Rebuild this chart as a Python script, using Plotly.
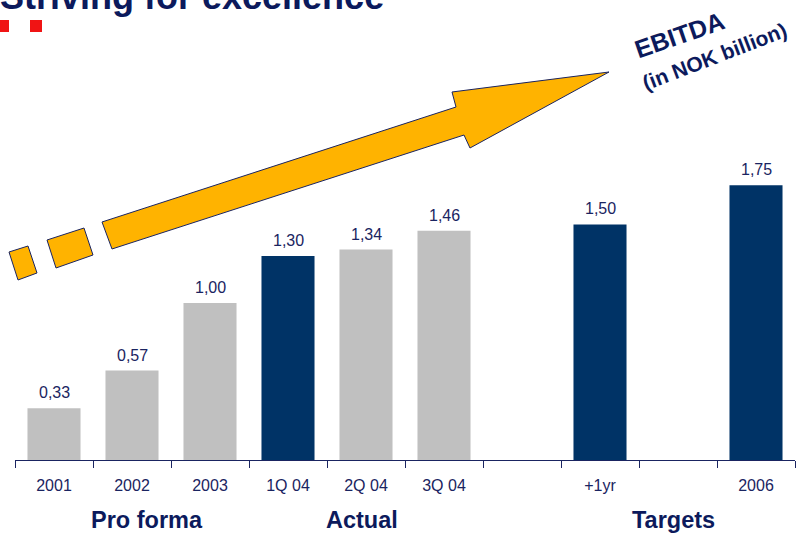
import plotly.graph_objects as go

# ---- data ----
categories = ["2001", "2002", "2003", "1Q 04", "2Q 04", "3Q 04", "", "+1yr", "", "2006"]
ebitda = [0.33, 0.57, 1.00, 1.30, 1.34, 1.46, None, 1.50, None, 1.75]
highlight = [False, False, False, True, False, False, False, True, False, True]
group_labels = ["Pro forma", "Actual", "Targets"]
title_text = "Striving for excellence"
unit_title = "EBITDA"
unit_sub = "(in NOK billion)"

# ---- styles ----
W, H = 798, 535
GRAY = "#C0C0C0"
NAVY_BAR = "#003366"
NAVY_TXT = "#1A2461"
TITLE_COL = "#0C1A5C"
ORANGE = "#FFB300"
FONT = "Liberation Sans, Arial, sans-serif"


def px(x):
    return x / W


def py(y):
    return 1 - y / H


pos = list(range(len(categories)))
bar_colors = [NAVY_BAR if h else GRAY for h in highlight]

fig = go.Figure()
fig.add_trace(go.Bar(
    x=pos, y=ebitda, marker=dict(color=bar_colors, line=dict(width=0)),
    hoverinfo="skip", showlegend=False,
))

annotations = []
for p, v in zip(pos, ebitda):
    if v is None:
        continue
    annotations.append(dict(
        x=p, y=v, xref="x", yref="y", text=f"{v:.2f}".replace(".", ","),
        showarrow=False, yanchor="bottom", yshift=5,
        font=dict(family=FONT, size=16, color=NAVY_TXT),
    ))

# group labels
for lbl, cx in zip(group_labels, [147, 362, 673]):
    annotations.append(dict(
        x=px(cx), y=py(520), xref="paper", yref="paper", text=f"<b>{lbl}</b>",
        showarrow=False, xanchor="center", yanchor="middle",
        font=dict(family=FONT, size=23.5, color=TITLE_COL),
    ))

# title (cut at top)
annotations.append(dict(
    x=px(-2), y=py(-3), xref="paper", yref="paper", text=f"<b>{title_text}</b>",
    showarrow=False, xanchor="left", yanchor="middle",
    font=dict(family=FONT, size=36, color=TITLE_COL),
))

# rotated unit labels
annotations.append(dict(
    x=px(679), y=py(35), xref="paper", yref="paper", text=f"<b>{unit_title}</b>",
    showarrow=False, xanchor="center", yanchor="middle", textangle=-19,
    font=dict(family=FONT, size=25, color=TITLE_COL),
))
annotations.append(dict(
    x=px(714), y=py(56), xref="paper", yref="paper", text=f"<b>{unit_sub}</b>",
    showarrow=False, xanchor="center", yanchor="middle", textangle=-21,
    font=dict(family=FONT, size=21, color=TITLE_COL),
))


def poly(pts):
    return "M " + " L ".join(f"{px(x):.5f},{py(y):.5f}" for x, y in pts) + " Z"


shapes = []
# red squares
for x0 in (-3, 30):
    shapes.append(dict(type="rect", xref="paper", yref="paper",
                       x0=px(x0), x1=px(x0 + 12), y0=py(32), y1=py(20),
                       fillcolor="#F01414", line=dict(width=0)))

arrow_style = dict(xref="paper", yref="paper", fillcolor=ORANGE,
                   line=dict(color="#1A2461", width=1))
shapes.append(dict(type="path", path=poly([(9, 252), (28, 246), (37, 273), (18, 280)]), **arrow_style))
shapes.append(dict(type="path", path=poly([(47, 240), (84, 228), (93, 255), (56, 268)]), **arrow_style))
shapes.append(dict(type="path", path=poly([
    (102, 222), (456, 107), (452, 92), (609, 72), (470, 148), (464, 135), (112, 249)
]), **arrow_style))

y_bottom = 460
y_scale = 157  # px per unit
y_max = 2.0
y_top = y_bottom - y_max * y_scale
boundaries = [p - 0.5 for p in pos] + [pos[-1] + 0.5]

fig.update_layout(
    width=W, height=H,
    margin=dict(l=0, r=0, t=0, b=0),
    paper_bgcolor="white", plot_bgcolor="white",
    bargap=0.32,
    xaxis=dict(
        domain=[px(15), px(795)], range=[-0.5, len(categories) - 0.5],
        tickmode="array", tickvals=pos, ticktext=categories,
        ticks="", ticklen=0,
        minor=dict(tickmode="array", tickvals=boundaries, ticks="outside",
                   ticklen=7, tickcolor="#1A2461", tickwidth=1, showgrid=False),
        showline=True, linecolor="#1A2461", linewidth=1,
        showgrid=False, zeroline=False, ticklabelstandoff=11,
        tickfont=dict(family=FONT, size=16, color=NAVY_TXT),
        fixedrange=True,
    ),
    yaxis=dict(
        domain=[py(y_bottom), py(y_top)], range=[0, y_max], visible=False,
        showgrid=False, zeroline=False, fixedrange=True,
    ),
    annotations=annotations,
    shapes=shapes,
    font=dict(family=FONT),
)

fig.write_html(
    "out.html",
    config={"displayModeBar": False},
    post_script="document.body.style.margin='0';document.body.style.overflow='hidden';",
)
